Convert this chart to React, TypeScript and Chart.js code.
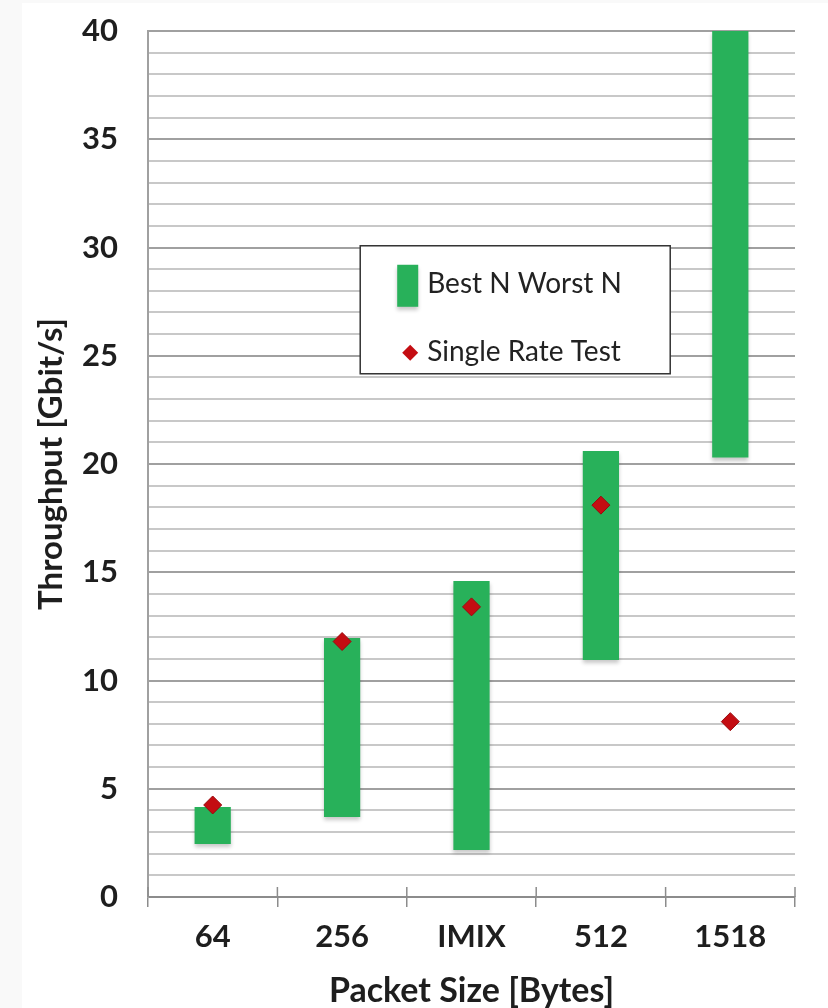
import React, { useEffect, useRef } from "react";
import { Chart, registerables } from "chart.js";

Chart.register(...registerables);

const categories = ["64", "256", "IMIX", "512", "1518"];
const worstN = [2.45, 3.7, 2.17, 10.95, 20.3];
const bestN = [4.16, 11.96, 14.6, 20.6, 40];
const singleRate = [4.25, 11.8, 13.4, 18.1, 8.1];
const yTickStep = 1;
const yLabelStep = 5;

const FONT = 'Lato, "Open Sans", sans-serif';
const GREEN = "#28b15a";
const RED = "#c40d12";

const bgPlugin = {
  id: "bg",
  beforeDraw(chart: any) {
    const { ctx, width, height } = chart;
    ctx.save();
    ctx.fillStyle = "#f9f9f9";
    ctx.fillRect(0, 0, width, height);
    ctx.fillStyle = "#ffffff";
    ctx.fillRect(22, 3, width - 22, height - 3);
    ctx.restore();
  },
};

const shadowPlugin = {
  id: "barShadow",
  beforeDatasetDraw(chart: any, args: any) {
    if (args.meta.type === "bar") {
      const ctx = chart.ctx;
      ctx.save();
      ctx.shadowColor = "rgba(0,0,0,0.22)";
      ctx.shadowBlur = 4;
      ctx.shadowOffsetY = 3;
    }
  },
  afterDatasetDraw(chart: any, args: any) {
    if (args.meta.type === "bar") chart.ctx.restore();
  },
};

const crossTicksPlugin = {
  id: "crossTicks",
  afterDraw(chart: any) {
    const x = chart.scales.x;
    const { ctx, chartArea } = chart;
    ctx.save();
    ctx.strokeStyle = "#8c8c8c";
    ctx.lineWidth = 1.5;
    const n = chart.data.labels.length;
    for (let i = 0; i <= n; i++) {
      const px = x.getPixelForValue(i - 0.5);
      ctx.beginPath();
      ctx.moveTo(px, chartArea.bottom - 10);
      ctx.lineTo(px, chartArea.bottom);
      ctx.stroke();
    }
    ctx.restore();
  },
};

const legendPlugin = {
  id: "boxLegend",
  afterDraw(chart: any) {
    const { ctx, chartArea } = chart;
    const w = chartArea.right - chartArea.left;
    const h = chartArea.bottom - chartArea.top;
    const left = chartArea.left + w * 0.328;
    const top = chartArea.top + h * 0.248;
    const bw = 310;
    const bh = 128;
    ctx.save();
    ctx.fillStyle = "#ffffff";
    ctx.fillRect(left, top, bw, bh);
    ctx.strokeStyle = "#333333";
    ctx.lineWidth = 1.5;
    ctx.strokeRect(left, top, bw, bh);
    const ds = chart.data.datasets;
    ctx.fillStyle = ds[0].backgroundColor;
    ctx.shadowColor = "rgba(0,0,0,0.22)";
    ctx.shadowBlur = 4;
    ctx.shadowOffsetY = 3;
    ctx.fillRect(left + 37, top + 19, 21, 42);
    ctx.shadowColor = "transparent";
    const cx = left + 50;
    const cy = top + 107;
    const r = 8;
    ctx.fillStyle = ds[1].backgroundColor;
    ctx.beginPath();
    ctx.moveTo(cx - r, cy);
    ctx.lineTo(cx, cy - r);
    ctx.lineTo(cx + r, cy);
    ctx.lineTo(cx, cy + r);
    ctx.closePath();
    ctx.fill();
    ctx.fillStyle = "#222222";
    ctx.font = `28px ${FONT}`;
    ctx.textBaseline = "middle";
    ctx.textAlign = "left";
    ctx.fillText(ds[0].label, left + 67, top + 38);
    ctx.fillText(ds[1].label, left + 67, top + 106);
    ctx.restore();
  },
};

export default function App() {
  const ref = useRef<HTMLCanvasElement | null>(null);
  useEffect(() => {
    document.body.style.margin = "0";
    const canvas = ref.current;
    if (!canvas) return;
    const chart = new Chart(canvas, {
      type: "bar",
      data: {
        labels: categories,
        datasets: [
          {
            type: "bar",
            label: "Best N Worst N",
            data: categories.map((_, i) => [worstN[i], bestN[i]]) as any,
            backgroundColor: GREEN,
            borderWidth: 0,
            categoryPercentage: 1,
            barPercentage: 0.28,
            order: 2,
          },
          {
            type: "line",
            label: "Single Rate Test",
            data: singleRate,
            showLine: false,
            pointStyle: "rectRot",
            pointRadius: 9,
            pointBackgroundColor: RED,
            pointBorderColor: "#9a0a0e",
            pointBorderWidth: 1,
            backgroundColor: RED,
            order: 1,
          } as any,
        ],
      },
      options: {
        responsive: false,
        animation: false,
        devicePixelRatio: 1,
        layout: { padding: { top: 31, right: 33, left: 0, bottom: 0 } },
        plugins: {
          legend: { display: false },
          tooltip: { enabled: false },
        },
        scales: {
          x: {
            offset: true,
            afterFit: (s: any) => {
              s.height = 111;
            },
            grid: {
              offset: true,
              drawOnChartArea: false,
              drawTicks: true,
              tickLength: 10,
              color: "#8c8c8c",
              lineWidth: 1.5,
            },
            border: { display: true, color: "#8c8c8c", width: 2 },
            ticks: {
              color: "#1e1e1e",
              padding: 11,
              font: { family: FONT, size: 31, weight: "bold" },
            },
            title: {
              display: true,
              text: "Packet Size [Bytes]",
              color: "#1e1e1e",
              padding: { top: 0, bottom: 0 },
              font: { family: FONT, size: 34, weight: "bold", lineHeight: 1 },
            },
          },
          y: {
            min: 0,
            max: 40,
            afterFit: (s: any) => {
              s.width = 148;
            },
            grid: {
              drawTicks: true,
              tickLength: 30,
              tickColor: "rgba(0,0,0,0)",
              color: (c: any) =>
                c.tick && c.tick.value % yLabelStep === 0 ? "#a0a0a0" : "#c8c8c8",
              lineWidth: 2,
            },
            border: { display: true, color: "#a0a0a0", width: 2 },
            ticks: {
              stepSize: yTickStep,
              autoSkip: false,
              padding: 0,
              color: "#1e1e1e",
              font: { family: FONT, size: 31, weight: "bold" },
              callback: (v: any) => (Number(v) % yLabelStep === 0 ? String(v) : ""),
            },
            title: {
              display: true,
              text: "Throughput [Gbit/s]",
              color: "#1e1e1e",
              padding: { top: 35, bottom: 0 },
              font: { family: FONT, size: 33, weight: "bold", lineHeight: 1 },
            },
          },
        },
      },
      plugins: [bgPlugin, shadowPlugin, crossTicksPlugin, legendPlugin],
    });
    return () => chart.destroy();
  }, []);
  return <canvas ref={ref} width={828} height={1008} style={{ display: "block" }} />;
}
